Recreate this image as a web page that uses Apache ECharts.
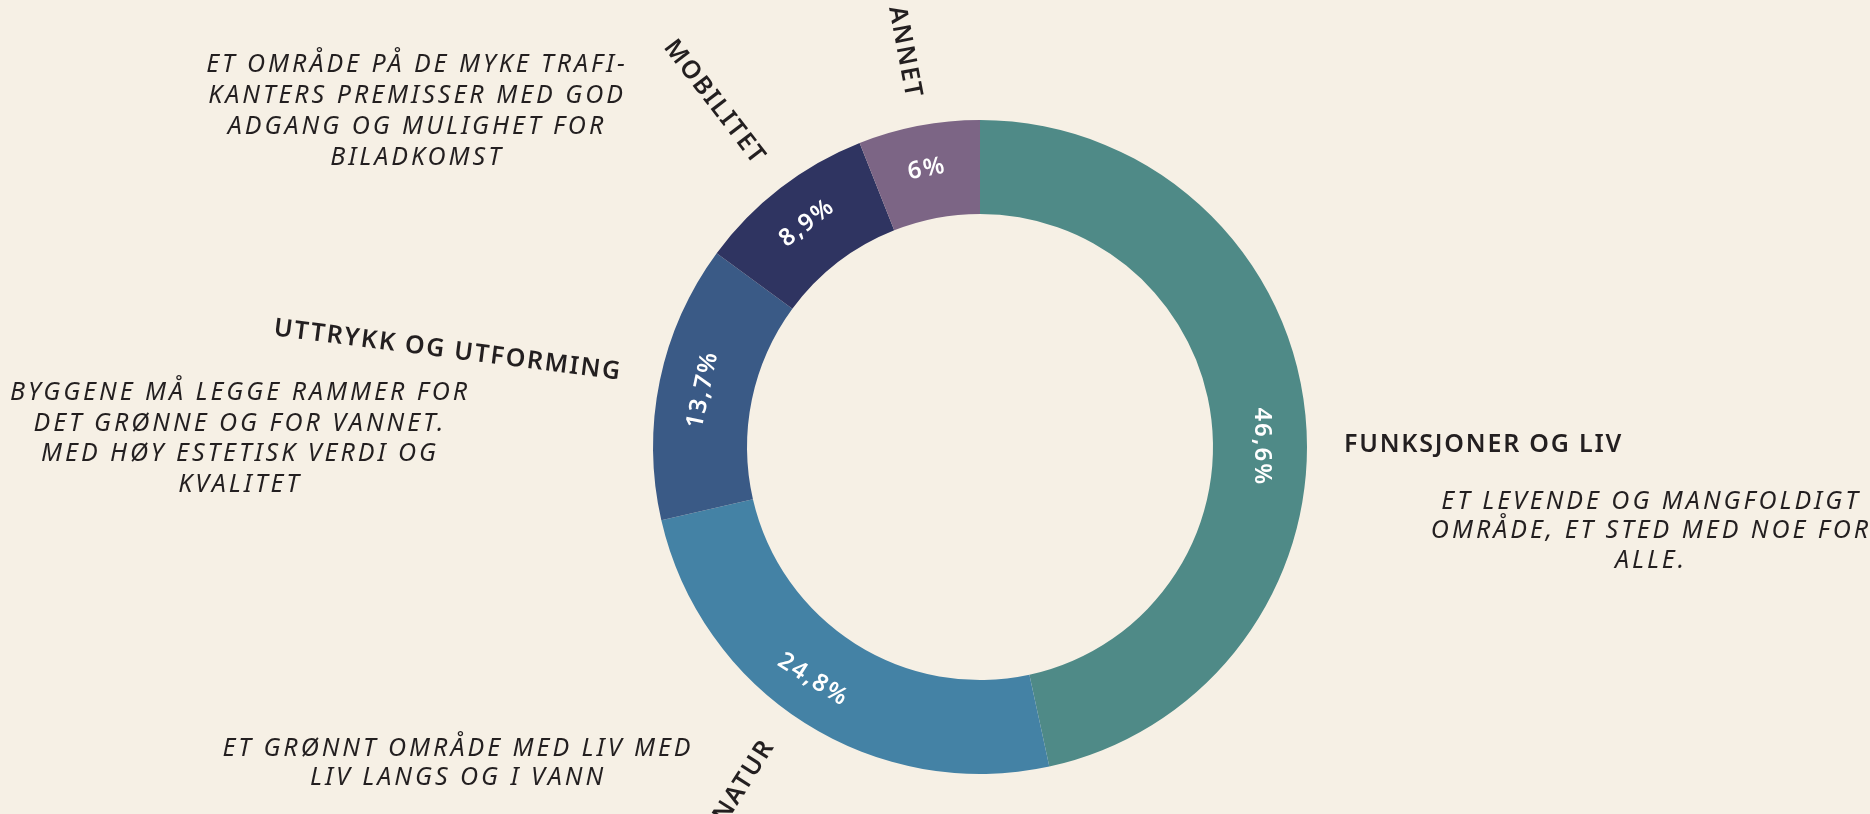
<!DOCTYPE html>
<html>
<head>
<meta charset="utf-8">
<style>
html,body{margin:0;padding:0;background:#f6f0e5;}
#chart{width:1870px;height:814px;}
</style>
<script src="https://cdn.jsdelivr.net/npm/echarts@6/dist/echarts.min.js"></script>
</head>
<body>
<div id="chart"></div>
<script>
// Letter spacing support: a font family token "spNN" means NN/10 px of letter spacing
(function () {
  const P = CanvasRenderingContext2D.prototype;
  const apply = (ctx) => {
    const m = /\bsp(\d+)\b/.exec(ctx.font || '');
    try { ctx.letterSpacing = m ? (Number(m[1]) / 10) + 'px' : '0px'; } catch (e) {}
  };
  const f = P.fillText, s = P.strokeText, me = P.measureText;
  P.fillText = function () { apply(this); return f.apply(this, arguments); };
  P.strokeText = function () { apply(this); return s.apply(this, arguments); };
  P.measureText = function () { apply(this); return me.apply(this, arguments); };
})();

// ---- data ----
const categories = ['FUNKSJONER OG LIV', 'NATUR', 'UTTRYKK OG UTFORMING', 'MOBILITET', 'ANNET'];
const values = [46.6, 24.8, 13.7, 8.9, 6];
const colors = ['#4f8a87', '#4482a5', '#3a5a86', '#2f3461', '#7c6585'];

const descMobilitet = ['ET OMRÅDE PÅ DE MYKE TRAFI-', 'KANTERS PREMISSER MED GOD', 'ADGANG OG MULIGHET FOR', 'BILADKOMST'];
const descUttrykk = ['BYGGENE MÅ LEGGE RAMMER FOR', 'DET GRØNNE OG FOR VANNET.', 'MED HØY ESTETISK VERDI OG', 'KVALITET'];
const descFunksjoner = ['ET LEVENDE OG MANGFOLDIGT', 'OMRÅDE, ET STED MED NOE FOR', 'ALLE.'];
const descNatur = ['ET GRØNNT OMRÅDE MED LIV MED', 'LIV LANGS OG I VANN'];

// ---- chart ----
const chart = echarts.init(document.getElementById('chart'), null, { renderer: 'canvas' });
const CENTER = [980, 447];
const RADIUS = [233, 327];
const TEXT = '#231f20';
const CLEAR = 'rgba(0,0,0,0)';
const NAME_GAP = [33, 34, 39, 33, 28];          // gap between ring and category name
// small label nudges (offsets are in the label's own rotated frame)
const PCT_NUDGE = [{ dx: 30, rotate: -90 }, { dx: -16, dy: 3 }, {}, {}, {}];
const NAME_NUDGE = [{ rotate: 0, dx: 6, dy: 36 }, { dx: -1, dy: -20 }, { rotate: -7.3 }, {}, {}];

function descText(lines, x, y, lh) {
  return {
    type: 'text', x: x, y: y, silent: true,
    style: {
      text: lines.join('\n'),
      fill: TEXT,
      fontSize: 25, fontStyle: 'italic', fontWeight: 400,
      fontFamily: "'Noto Sans', sp30",
      align: 'center', textAlign: 'center',
      verticalAlign: 'top', textVerticalAlign: 'top',
      lineHeight: lh
    }
  };
}

const basePie = {
  type: 'pie', center: CENTER, radius: RADIUS, clockwise: true, startAngle: 90,
  avoidLabelOverlap: false, silent: true,
  emphasis: { disabled: true },
  labelLine: { show: false }
};

const option = {
  backgroundColor: '#f6f0e5',
  animation: false,
  series: [
    // slices + percentage labels inside the ring
    Object.assign({}, basePie, {
      data: categories.map((n, i) => ({ name: n, value: values[i], itemStyle: { color: colors[i] } })),
      label: {
        show: true, position: 'inside', rotate: 'tangential',
        color: '#ffffff', fontSize: 24, fontWeight: 600,
        fontFamily: "'Noto Sans', sp20",
        formatter: p => String(p.value).replace('.', ',') + '%'
      },
      labelLayout: p => PCT_NUDGE[p.dataIndex]
    }),
    // category names outside the ring
    Object.assign({}, basePie, {
      data: categories.map((n, i) => ({ name: n, value: values[i], labelLine: { length: NAME_GAP[i] } })),
      itemStyle: { color: CLEAR },
      label: {
        show: true, position: 'outside', rotate: 'radial',
        color: TEXT, fontSize: 25, fontWeight: 600,
        fontFamily: "'Noto Sans', sp18",
        distanceToLabelLine: 0,
        formatter: '{b}'
      },
      labelLine: { show: false, length: 33, length2: 0 },
      labelLayout: p => NAME_NUDGE[p.dataIndex]
    })
  ],
  graphic: [
    descText(descMobilitet, 417, 49, 31),
    descText(descUttrykk, 240, 378, 30.5),
    descText(descFunksjoner, 1651, 487, 29.5),
    descText(descNatur, 458, 734, 29)
  ]
};
chart.setOption(option);
</script>
</body>
</html>
